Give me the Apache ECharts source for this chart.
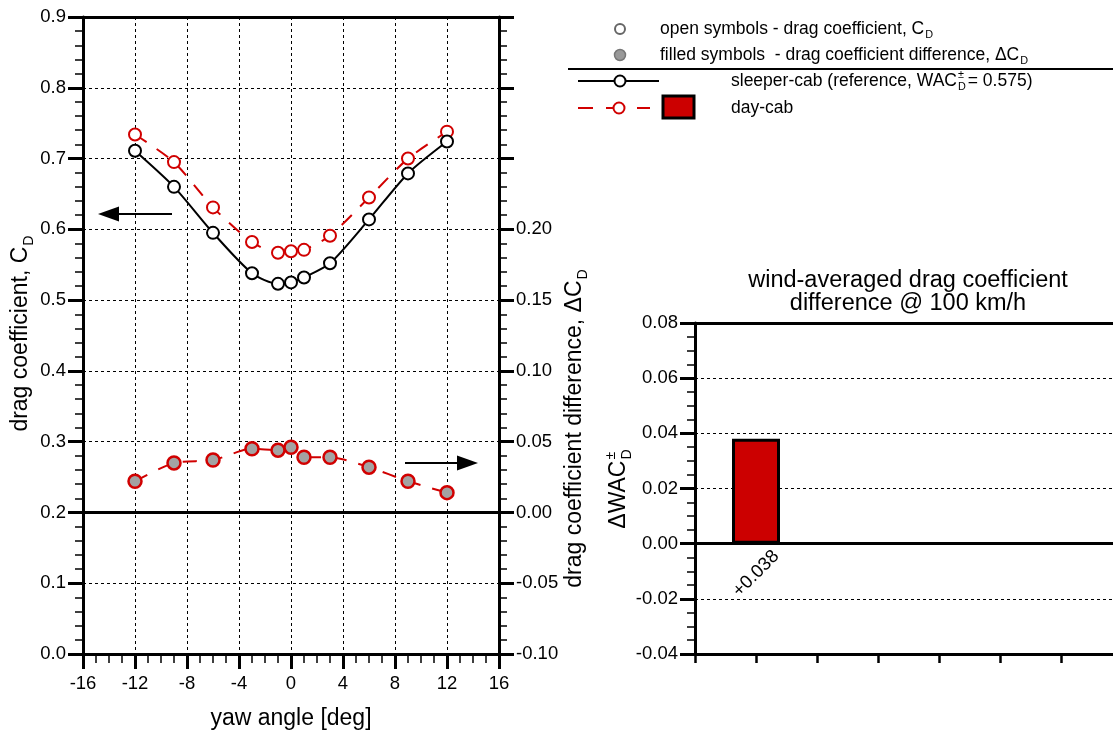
<!DOCTYPE html>
<html><head><meta charset="utf-8">
<script src="https://cdn.jsdelivr.net/npm/echarts@6/dist/echarts.min.js"></script>
<style>html,body{margin:0;padding:0;background:#fff}#c{width:1113px;height:730px}</style>
</head><body><div id="c"></div>
<script>
// ---- data ----
const yawAngles = [-12, -9, -6, -3, -1, 0, 1, 3, 6, 9, 12];
const sleeperCd = [0.711, 0.660, 0.595, 0.538, 0.523, 0.525, 0.532, 0.552, 0.614, 0.679, 0.724];
const dayCabCd = [0.734, 0.695, 0.631, 0.582, 0.567, 0.569, 0.571, 0.591, 0.645, 0.700, 0.738];
const dayCabDeltaCd = [0.022, 0.035, 0.037, 0.045, 0.044, 0.046, 0.039, 0.039, 0.032, 0.022, 0.014];
const barCategories = ['day-cab'];
const barPositions = [1];
const deltaWac = [0.038];
const xTicks = [-16, -12, -8, -4, 0, 4, 8, 12, 16];

const FONT = '"Liberation Sans", Arial, Helvetica, sans-serif';
const RED = '#d10000';
const mctx = document.createElement('canvas').getContext('2d');
function tw(t, size) { mctx.font = size + 'px ' + FONT; return mctx.measureText(t).width; }
function txt(t, size, x, y, extra) {
  return Object.assign({
    type: 'text', x: x, y: y, silent: true,
    style: { text: t, fontSize: size, fontFamily: FONT, fill: '#000',
      align: 'left', verticalAlign: 'middle', textAlign: 'left', textVerticalAlign: 'middle' }
  }, extra || {});
}
// pieces: [text, kind] kind: n | sub | stack (sup over sub)
function richText(pieces, size, x, y, rotation, center) {
  const s = size * 0.62;
  const items = []; let cx = 0;
  pieces.forEach(p => {
    if (p[1] === 'n') { items.push(txt(p[0], size, cx, 0)); cx += tw(p[0], size); }
    else if (p[1] === 'sub') { items.push(txt(p[0], s, cx + 1, size * 0.34)); cx += tw(p[0], s) + 2; }
    else if (p[1] === 'stack') {
      const a = p[0][0], b = p[0][1];
      items.push(txt(a, s, cx + 1, -size * 0.36));
      items.push(txt(b, s, cx + 1, size * 0.34));
      cx += Math.max(tw(a, s), tw(b, s)) + 3;
    }
  });
  if (center) items.forEach(i => { i.x -= cx / 2; });
  return { type: 'group', x: x, y: y, rotation: rotation || 0, silent: true, children: items };
}
function ctext(t, size, x, y) {
  return { type: 'text', x: x, y: y, silent: true,
    style: { text: t, fontSize: size, fontFamily: FONT, fill: '#000',
      align: 'center', verticalAlign: 'middle', textAlign: 'center', textVerticalAlign: 'middle' } };
}

const zip = (xs, ys) => xs.map((v, i) => [v, ys[i]]);
const gridDash = { color: '#000', width: 1, type: [3, 3] };
const labelStyle = { fontSize: 18.5, color: '#000', fontFamily: FONT };

const option = {
  animation: false,
  backgroundColor: '#fff',
  textStyle: { fontFamily: FONT },
  grid: [
    { left: 83, right: 614, top: 17, bottom: 76, containLabel: false, outerBoundsMode: 'none' },
    { left: 695, right: -9, top: 323, bottom: 76, containLabel: false, outerBoundsMode: 'none' }
  ],
  xAxis: [
    { type: 'value', gridIndex: 0, min: -16, max: 16, interval: 4, position: 'bottom',
      axisLine: { onZero: false, lineStyle: { color: '#000', width: 3 } },
      axisTick: { length: 15, lineStyle: { color: '#000', width: 3 } },
      minorTick: { show: true, splitNumber: 4, length: 9, lineStyle: { color: '#000', width: 1.5 } },
      axisLabel: Object.assign({ margin: 20 }, labelStyle),
      splitLine: { show: true, lineStyle: gridDash },
      name: 'yaw angle [deg]', nameLocation: 'middle', nameGap: 53,
      nameTextStyle: { fontSize: 23, color: '#000', fontFamily: FONT } },
    { type: 'value', gridIndex: 0, min: -16, max: 16, interval: 4, position: 'top',
      axisLine: { onZero: false, lineStyle: { color: '#000', width: 3 } },
      axisTick: { show: false }, axisLabel: { show: false }, splitLine: { show: false } },
    { type: 'value', gridIndex: 1, min: 0, max: 7, interval: 1, position: 'bottom',
      axisLine: { onZero: false, lineStyle: { color: '#000', width: 3 } },
      axisTick: { length: 9, lineStyle: { color: '#000', width: 2.5 } },
      axisLabel: { show: false }, splitLine: { show: false } },
    { type: 'value', gridIndex: 1, min: 0, max: 7, interval: 1, position: 'top',
      axisLine: { onZero: false, lineStyle: { color: '#000', width: 3 } },
      axisTick: { show: false }, axisLabel: { show: false }, splitLine: { show: false } }
  ],
  yAxis: [
    { type: 'value', gridIndex: 0, min: 0, max: 0.9, interval: 0.1, position: 'left',
      axisLine: { show: true, onZero: false, lineStyle: { color: '#000', width: 3 } },
      axisTick: { length: 15, lineStyle: { color: '#000', width: 3 } },
      minorTick: { show: true, splitNumber: 5, length: 8, lineStyle: { color: '#000', width: 1.5 } },
      axisLabel: Object.assign({ margin: 17, formatter: v => v.toFixed(1) }, labelStyle),
      splitLine: { show: true, lineStyle: gridDash } },
    { type: 'value', gridIndex: 0, min: -0.1, max: 0.35, interval: 0.05, position: 'right',
      axisLine: { show: true, onZero: false, lineStyle: { color: '#000', width: 3 } },
      axisTick: { length: 15, lineStyle: { color: '#000', width: 3 } },
      minorTick: { show: true, splitNumber: 5, length: 8, lineStyle: { color: '#000', width: 1.5 } },
      axisLabel: Object.assign({ margin: 17, formatter: v => (v <= 0.2001 ? v.toFixed(2) : '') }, labelStyle),
      splitLine: { show: false } },
    { type: 'value', gridIndex: 1, min: -0.04, max: 0.08, interval: 0.02, position: 'left',
      axisLine: { show: true, onZero: false, lineStyle: { color: '#000', width: 3 } },
      axisTick: { length: 15, lineStyle: { color: '#000', width: 3 } },
      minorTick: { show: true, splitNumber: 4, length: 8, lineStyle: { color: '#000', width: 1.5 } },
      axisLabel: Object.assign({ margin: 17, formatter: v => v.toFixed(2) }, labelStyle),
      splitLine: { show: true, lineStyle: gridDash } }
  ],
  series: [
    { name: 'sleeper-cab', type: 'line', xAxisIndex: 0, yAxisIndex: 0,
      data: zip(yawAngles, sleeperCd), smooth: 0.25,
      symbol: 'circle', symbolSize: 12,
      lineStyle: { color: '#000', width: 2 },
      itemStyle: { color: '#fff', borderColor: '#000', borderWidth: 2 }, z: 5 },
    { name: 'day-cab', type: 'line', xAxisIndex: 0, yAxisIndex: 0,
      data: zip(yawAngles, dayCabCd), smooth: 0.25,
      symbol: 'circle', symbolSize: 12,
      lineStyle: { color: RED, width: 2, type: [14, 12] },
      itemStyle: { color: '#fff', borderColor: RED, borderWidth: 2 }, z: 4 },
    { name: 'day-cab delta', type: 'line', xAxisIndex: 0, yAxisIndex: 1,
      data: zip(yawAngles, dayCabDeltaCd), smooth: 0.25,
      symbol: 'circle', symbolSize: 13,
      lineStyle: { color: RED, width: 2, type: [14, 12] },
      itemStyle: { color: '#a3a3a3', borderColor: RED, borderWidth: 2.5 }, z: 4,
      markLine: { silent: true, symbol: 'none', label: { show: false },
        lineStyle: { color: '#000', width: 3, type: 'solid' }, data: [{ yAxis: 0 }] } },
    { name: 'ΔWAC', type: 'bar', xAxisIndex: 2, yAxisIndex: 2,
      data: zip(barPositions, deltaWac), barWidth: 48,
      itemStyle: { color: '#cc0000', borderColor: '#000', borderWidth: 3 },
      label: { show: true, position: 'bottom', distance: 30, rotate: 45,
        align: 'center', verticalAlign: 'middle',
        formatter: p => '+' + p.value[1].toFixed(3), fontSize: 18.5, color: '#000', fontFamily: FONT },
      markLine: { silent: true, symbol: 'none', label: { show: false },
        lineStyle: { color: '#000', width: 3, type: 'solid' }, data: [{ yAxis: 0 }] } }
  ],
  graphic: [
    // axis names
    richText([['drag coefficient, C', 'n'], ['D', 'sub']], 23, 21, 333, Math.PI / 2, true),
    richText([['drag coefficient difference, ΔC', 'n'], ['D', 'sub']], 23, 575, 428, Math.PI / 2, true),
    richText([['ΔWAC', 'n'], [['±', 'D'], 'stack']], 23, 619, 488, Math.PI / 2, true),
    // bar title
    ctext('wind-averaged drag coefficient', 23.5, 908, 281),
    ctext('difference @ 100 km/h', 23.5, 908, 304),
    // arrows
    { type: 'line', silent: true, shape: { x1: 172, y1: 214, x2: 115, y2: 214 }, style: { stroke: '#000', lineWidth: 2 } },
    { type: 'polygon', silent: true, shape: { points: [[98, 214], [119, 206.5], [119, 221.5]] }, style: { fill: '#000' } },
    { type: 'line', silent: true, shape: { x1: 405, y1: 463, x2: 460, y2: 463 }, style: { stroke: '#000', lineWidth: 2 } },
    { type: 'polygon', silent: true, shape: { points: [[478, 463], [457, 455.5], [457, 470.5]] }, style: { fill: '#000' } },
    // legend
    { type: 'circle', silent: true, shape: { cx: 620, cy: 29, r: 5 }, style: { fill: '#fff', stroke: '#666', lineWidth: 2 } },
    richText([['open symbols - drag coefficient, C', 'n'], ['D', 'sub']], 17.5, 660, 29, 0, false),
    { type: 'circle', silent: true, shape: { cx: 620, cy: 55, r: 5.5 }, style: { fill: '#999', stroke: '#777', lineWidth: 1.5 } },
    richText([['filled symbols  - drag coefficient difference, ΔC', 'n'], ['D', 'sub']], 17.5, 660, 55, 0, false),
    { type: 'line', silent: true, shape: { x1: 568, y1: 69, x2: 1113, y2: 69 }, style: { stroke: '#000', lineWidth: 2 } },
    { type: 'line', silent: true, shape: { x1: 578, y1: 81, x2: 659, y2: 81 }, style: { stroke: '#000', lineWidth: 2 } },
    { type: 'circle', silent: true, shape: { cx: 620, cy: 81, r: 5.5 }, style: { fill: '#fff', stroke: '#000', lineWidth: 2 } },
    richText([['sleeper-cab (reference, WAC', 'n'], [['±', 'D'], 'stack'], ['= 0.575)', 'n']], 17.5, 731, 81, 0, false),
    { type: 'line', silent: true, shape: { x1: 578, y1: 108, x2: 593, y2: 108 }, style: { stroke: RED, lineWidth: 2 } },
    { type: 'line', silent: true, shape: { x1: 606, y1: 108, x2: 614, y2: 108 }, style: { stroke: RED, lineWidth: 2 } },
    { type: 'line', silent: true, shape: { x1: 637, y1: 108, x2: 650, y2: 108 }, style: { stroke: RED, lineWidth: 2 } },
    { type: 'circle', silent: true, shape: { cx: 619, cy: 108, r: 5.5 }, style: { fill: '#fff', stroke: RED, lineWidth: 2 } },
    { type: 'rect', silent: true, shape: { x: 663, y: 96, width: 31, height: 22 }, style: { fill: '#cc0000', stroke: '#000', lineWidth: 3 } },
    txt('day-cab', 17.5, 731, 108)
  ]
};

const chart = echarts.init(document.getElementById('c'), null, { renderer: 'canvas' });
chart.setOption(option);
</script>
</body></html>
